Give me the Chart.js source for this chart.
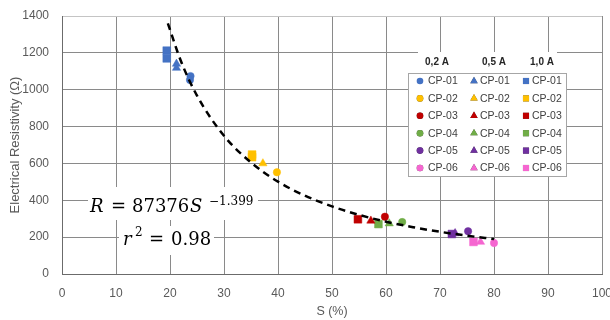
<!DOCTYPE html>
<html>
<head>
<meta charset="utf-8">
<script src="https://cdn.jsdelivr.net/npm/chart.js@4"></script>
<style>
  body { margin: 0; background: #fff; }
</style>
</head>
<body>
<canvas id="chart" width="610" height="320"></canvas>
<script>
// --- data ---
const samples = ["CP-01", "CP-02", "CP-03", "CP-04", "CP-05", "CP-06"];
const currents = ["0,2 A", "0,5 A", "1,0 A"];

// S (%) and resistivity per sample, one list per current
const s02 = [[23.8, 23.7], [39.8], [59.8], [63.0], [75.2], [80.0]];
const r02 = [[1074, 1053], [552], [311], [282], [232], [168]];
const s05 = [[21.2, 21.2], [37.2], [57.2], [60.6], [72.8], [77.5]];
const r05 = [[1140, 1118], [600], [289], [274], [221], [174]];
const s10 = [[19.4, 19.4], [35.2, 35.2], [54.8], [58.6], [72.2], [76.2]];
const r10 = [[1212, 1170], [648, 634], [297], [271], [217], [174]];

// trendline R = 87376 S^-1.399
const trendS = [19.6, 22, 25, 30, 35, 40, 45, 50, 55, 60, 65, 70, 75, 80];
const trendR = [1360, 1157, 968, 750, 605, 501, 425, 367, 321, 284, 254, 229, 208, 190];

const xTicks = { min: 0, max: 100, step: 10 };
const yTicks = { min: 0, max: 1400, step: 200 };

// --- styles ---
const sampleColors = ["#4472C4", "#FFC000", "#C00000", "#70AD47", "#7030A0", "#F566D0"];
const markerStyles = ["circle", "triangle", "rect"];
const markerRadius = { circle: 3.7, triangle: 4.8, rect: 5.5 };
const textGray = "#595959";

const seriesS = [s02, s05, s10];
const seriesR = [r02, r05, r10];

const datasets = [];
datasets.push({
  type: "line",
  label: "trend",
  data: trendS.map((s, i) => ({ x: s, y: trendR[i] })),
  borderColor: "#000",
  borderWidth: 2.5,
  borderDash: [7, 5],
  pointRadius: 0,
  cubicInterpolationMode: "monotone",
  fill: false,
  order: 0
});
samples.forEach((name, si) => {
  currents.forEach((cur, ci) => {
    const style = markerStyles[ci];
    datasets.push({
      type: "scatter",
      label: name,
      current: ci,
      sample: si,
      data: seriesS[ci][si].map((s, k) => ({ x: s, y: seriesR[ci][si][k] })),
      pointStyle: style,
      pointRadius: markerRadius[style],
      backgroundColor: sampleColors[si],
      borderColor: sampleColors[si],
      borderWidth: 0.5,
      order: 1
    });
  });
});

// equation text boxes
const equationPlugin = {
  id: "equation",
  beforeDatasetsDraw(chart) {
    const ctx = chart.ctx;
    ctx.save();
    ctx.fillStyle = "#fff";
    ctx.fillRect(88, 187, 170, 33);
    ctx.fillRect(119, 226, 95, 29);
    ctx.fillStyle = "#000";
    ctx.textBaseline = "alphabetic";
    ctx.textAlign = "left";
    const serif = "'DejaVu Serif'";
    ctx.font = "italic 18px " + serif;
    ctx.fillText("R", 90, 211.5);
    ctx.fillText("S", 190, 211.5);
    ctx.fillText("r", 123, 245);
    ctx.font = "18px " + serif;
    ctx.fillText("=", 111, 211.5);
    ctx.fillText("87376", 132, 211.5);
    ctx.fillText("=", 149, 245);
    ctx.fillText("0.98", 171, 245);
    ctx.font = "12px " + serif;
    ctx.fillText("\u22121.399", 209, 205);
    ctx.fillText("2", 135, 236);
    ctx.restore();
  }
};

// three-column legend box (one column per current)
const legendPlugin = {
  id: "gridLegend",
  afterDraw(chart) {
    const ctx = chart.ctx;
    const box = { x: 408, y: 73, w: 158, h: 103 };
    const markerX = [420, 474, 526];
    const textX = [428, 480, 532];
    const headX = [437, 494, 542];
    ctx.save();
    ctx.fillStyle = "#fff";
    ctx.fillRect(418, 52, 139, 21);
    ctx.font = "bold 10px 'Liberation Sans'";
    ctx.fillStyle = "#262626";
    ctx.textAlign = "center";
    ctx.textBaseline = "middle";
    currents.forEach((c, i) => ctx.fillText(c, headX[i], 62));

    ctx.fillStyle = "#fff";
    ctx.fillRect(box.x, box.y, box.w, box.h);
    ctx.strokeStyle = "#a6a6a6";
    ctx.lineWidth = 1;
    ctx.strokeRect(box.x + 0.5, box.y + 0.5, box.w, box.h);

    ctx.font = "10.5px 'Liberation Sans'";
    ctx.textAlign = "left";
    chart.data.datasets.forEach(ds => {
      if (ds.current === undefined) return;
      const y = 81 + ds.sample * 17.4;
      const style = markerStyles[ds.current];
      Chart.helpers.drawPoint(ctx, {
        pointStyle: style,
        radius: style === "circle" ? 3.3 : 4.3,
        borderWidth: 0
      }, markerX[ds.current], y);
      ctx.fillStyle = ds.backgroundColor;
      ctx.fill();
      ctx.fillStyle = "#404040";
      ctx.fillText(ds.label, textX[ds.current], y + 0.5);
    });
    ctx.restore();
  }
};

new Chart(document.getElementById("chart"), {
  data: { datasets },
  options: {
    responsive: false,
    animation: false,
    devicePixelRatio: 1,
    layout: { padding: { top: 16, right: 8, bottom: 0, left: 0 } },
    plugins: {
      legend: { display: false },
      tooltip: { enabled: false }
    },
    scales: {
      x: {
        type: "linear",
        min: xTicks.min,
        max: xTicks.max,
        ticks: { stepSize: xTicks.step, color: textGray, font: { family: "'Liberation Sans'", size: 12 }, padding: 12, maxRotation: 0, callback: v => String(v) },
        grid: { color: "#8a8a8a", drawTicks: false },
        border: { color: "#6b6b6b" },
        title: { display: true, text: "S (%)", color: textGray, font: { family: "'Liberation Sans'", size: 12.5 }, padding: { top: 0, bottom: 0.5 } },
        afterFit(scale) {
          scale.height = 46;
          scale.paddingLeft = 0;
          scale.paddingRight = 0;
        }
      },
      y: {
        min: yTicks.min,
        max: yTicks.max,
        ticks: { stepSize: yTicks.step, color: textGray, font: { family: "'Liberation Sans'", size: 12 }, padding: 13, callback: v => String(v) },
        grid: {
          color: ctx => ctx.tick && ctx.tick.value === yTicks.max ? "#c4c4c4" : "#8a8a8a",
          drawTicks: false
        },
        border: { color: "#6b6b6b" },
        title: { display: true, text: "Electrical Resistivity (\u03a9)", color: textGray, font: { family: "'Liberation Sans'", size: 13 }, padding: { top: 8, bottom: 0 } },
        afterFit(scale) {
          scale.width = 62;
          scale.paddingTop = 0;
          scale.paddingBottom = 0;
        }
      }
    }
  },
  plugins: [equationPlugin, legendPlugin]
});
</script>
</body>
</html>
